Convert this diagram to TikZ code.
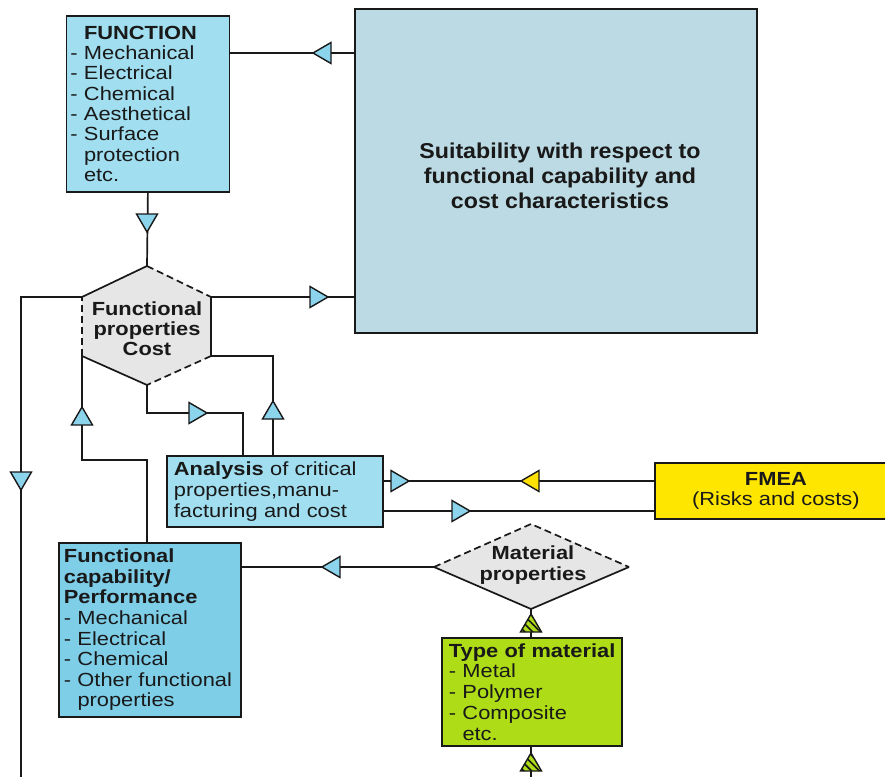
\documentclass[tikz,border=0pt]{standalone}
\usepackage{fontspec}
\setmainfont{Liberation Sans}[FakeStretch=1.15]
\newfontfamily\widefont{Liberation Sans}[FakeStretch=1.08]
\usetikzlibrary{patterns.meta}

\definecolor{funcblue}{RGB}{160,222,240}
\definecolor{capblue}{RGB}{126,206,232}
\definecolor{bigblue}{RGB}{188,218,227}
\definecolor{tintgrey}{RGB}{230,230,230}
\definecolor{fmeayellow}{RGB}{255,230,0}
\definecolor{typegreen}{RGB}{174,220,22}
\definecolor{triblue}{RGB}{140,211,236}
\definecolor{triyellow}{RGB}{255,224,0}
\definecolor{ink}{RGB}{25,25,25}

\tikzset{
  box/.style={draw=ink, line width=1.8pt, anchor=north west, inner ysep=0pt,
    align=left, text=ink, font=\fontsize{19}{20.3}\selectfont},
  conn/.style={draw=ink, line width=1.7pt},
  edgedash/.style={conn, dash pattern=on 7pt off 4pt},
  marker/.style={draw=ink, line width=1.4pt},
  tri/.pic={\path[pic actions] (0,0) -- (-18,10.5) -- (-18,-10.5) -- cycle;},
  htri/.pic={
    \fill[typegreen] (0,0) -- (-10.5,18) -- (10.5,18) -- cycle;
    \fill[pattern={Lines[angle=-45,distance=5.5pt,line width=1.7pt]}, pattern color=ink]
      (0,0) -- (-10.5,18) -- (10.5,18) -- cycle;
    \draw[ink, line width=1.4pt, line join=miter] (0,0) -- (-10.5,18) -- (10.5,18) -- cycle;
  },
}

\begin{document}
\begin{tikzpicture}[x=1pt,y=-1pt]
\clip (0,0) rectangle (885,776);
\fill[white] (0,0) rectangle (885,776);

% boxes
\node[box, fill=funcblue, minimum width=163pt, minimum height=176pt,
      text width=155pt, inner xsep=4pt] (func) at (65.5,15)
  {\phantom{- }\textbf{FUNCTION}\\
   - Mechanical\\
   - Electrical\\
   - Chemical\\
   - Aesthetical\\
   - Surface\\
   \phantom{- }protection\\
   \phantom{- }etc.};

\node[box, fill=bigblue, minimum width=402pt, minimum height=324pt] (big) at (354,8) {};
\node[align=center, text=ink, font=\widefont\fontsize{21.5}{25}\selectfont\bfseries]
  (bigtext) at (560,176)
  {Suitability with respect to\\functional capability and\\cost characteristics};

\node[box, fill=funcblue, minimum width=216pt, minimum height=71pt,
      text width=202pt, inner xsep=7pt, font=\fontsize{19}{21}\selectfont] (ana) at (166,455)
  {\textbf{Analysis} of critical\\
   properties,manu-\\
   facturing and cost};

\node[box, fill=fmeayellow, minimum width=242pt, minimum height=56pt,
      align=center, font=\fontsize{19}{20}\selectfont] (fmea) at (654,462)
  {\textbf{FMEA}\\(Risks and costs)};

\node[box, fill=capblue, minimum width=182pt, minimum height=174pt,
      text width=172pt, inner xsep=5pt, font=\fontsize{19}{20.6}\selectfont] (cap) at (58,542)
  {\textbf{Functional}\\
   \textbf{capability/}\\
   \textbf{Performance}\\
   - Mechanical\\
   - Electrical\\
   - Chemical\\
   - Other functional\\
   \phantom{- }properties};

\node[box, fill=typegreen, minimum width=180pt, minimum height=108pt,
      text width=172pt, inner xsep=4pt, font=\fontsize{19}{20.75}\selectfont] (type) at (441,637)
  {\hspace*{3pt}\textbf{Type of material}\\
   \hspace*{3pt}- Metal\\
   \hspace*{3pt}- Polymer\\
   \hspace*{3pt}- Composite\\
   \hspace*{3pt}\phantom{- }etc.};

% hexagon: functional properties / cost
\coordinate (hT)  at (147,266);
\coordinate (hUR) at (211,297);
\coordinate (hLR) at (211,356);
\coordinate (hB)  at (147,385);
\coordinate (hLL) at (82,356);
\coordinate (hUL) at (82,297);
\fill[tintgrey] (hT) -- (hUR) -- (hLR) -- (hB) -- (hLL) -- (hUL) -- cycle;
\draw[conn] (hUL) -- (hT);
\draw[edgedash] (hT) -- (hUR);
\draw[conn] (hUR) -- (hLR);
\draw[edgedash] (hLR) -- (hB);
\draw[conn] (hB) -- (hLL);
\draw[edgedash] (hLL) -- (hUL);
\node[align=center, text=ink, font=\fontsize{19}{20}\selectfont\bfseries] (hex) at (147,329)
  {Functional\\properties\\Cost};

% diamond: material properties
\coordinate (dL) at (434,567);
\coordinate (dT) at (531,524);
\coordinate (dR) at (629,567);
\coordinate (dB) at (531,609);
\fill[tintgrey] (dL) -- (dT) -- (dR) -- (dB) -- cycle;
\draw[edgedash] (dL) -- (dT) -- (dR);
\draw[conn] (dR) -- (dB) -- (dL);
\node[align=center, text=ink, font=\fontsize{19}{21}\selectfont\bfseries] (mat) at (533,565)
  {Material\\properties};

% connectors
\coordinate (yA) at (0,53);
\draw[conn] (func.east |- yA) -- (big.west |- yA);
\draw[conn] (func.south) -- (hT);
\draw[conn] (hUR) -- (big.west |- hUR);
\coordinate (leftEnd) at (21,790);
\draw[conn] (hUL) -| (leftEnd);
\coordinate (k1) at (147,460);
\draw[conn] (hLL) |- (k1) -- (k1 |- cap.north);
\coordinate (k2) at (243,413);
\draw[conn] (hB) |- (k2) -- (k2 |- ana.north);
\coordinate (k3) at (273,356);
\draw[conn] (hLR) -- (k3) -- (k3 |- ana.north);
\coordinate (y1) at (0,481);
\coordinate (y2) at (0,511);
\draw[conn] (ana.east |- y1) -- (fmea.west |- y1);
\draw[conn] (ana.east |- y2) -- (fmea.west |- y2);
\draw[conn] (cap.east |- dL) -- (dL);
\draw[conn] (dB) -- (type.north -| dB);
\coordinate (botEnd) at (531,790);
\draw[conn] (type.south -| botEnd) -- (botEnd);

% flow markers
\pic[marker, fill=triblue, rotate=180] at (313,53) {tri};
\pic[marker, fill=triblue, rotate=-90] at (147,232) {tri};
\pic[marker, fill=triblue] at (328,297) {tri};
\pic[marker, fill=triblue, rotate=-90] at (21,490) {tri};
\pic[marker, fill=triblue, rotate=90] at (82,407) {tri};
\pic[marker, fill=triblue] at (207,413) {tri};
\pic[marker, fill=triblue, rotate=90] at (273,401) {tri};
\pic[marker, fill=triblue] at (409,481) {tri};
\pic[marker, fill=triyellow, rotate=180] at (521,481) {tri};
\pic[marker, fill=triblue] at (470,511) {tri};
\pic[marker, fill=triblue, rotate=180] at (322,567) {tri};
\pic at (531,614) {htri};
\pic at (531,753) {htri};
\end{tikzpicture}
\end{document}
